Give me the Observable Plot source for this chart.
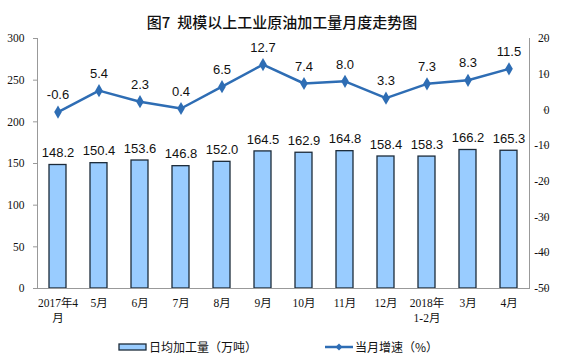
<!DOCTYPE html>
<html><head><meta charset="utf-8">
<script src="https://cdn.jsdelivr.net/npm/d3@7"></script>
<script src="https://cdn.jsdelivr.net/npm/@observablehq/plot@0.6"></script>
<style>
body{margin:0;background:#fff;}
#wrap{position:relative;width:564px;height:363px;overflow:hidden;font-family:"Noto Sans CJK SC",sans-serif;}
#title{position:absolute;left:0;top:12px;width:564px;text-align:center;font-size:15px;line-height:20px;font-weight:500;color:#111;}
#chart{position:absolute;left:0;top:32px;}
.leg{position:absolute;top:338px;font-size:12px;line-height:18px;color:#111;display:flex;align-items:center;}
</style></head>
<body><div id="wrap">
<div id="title">图7&nbsp;&nbsp;规模以上工业原油加工量月度走势图</div>
<div id="chart"></div>
<div class="leg" style="left:118px"><svg width="29" height="10" style="margin-right:2px"><rect x="1" y="2" width="27" height="6" fill="#99CCFF" stroke="#1c2b3a" stroke-width="1.3"/></svg>日均加工量（万吨）</div>
<div class="leg" style="left:325px"><svg width="28" height="10" style="margin-right:2px"><line x1="0" y1="5" x2="28" y2="5" stroke="#2E6DB4" stroke-width="2.5"/><path d="M14 1.5 L17.5 5 L14 8.5 L10.5 5Z" fill="#2E6DB4"/></svg>当月增速（%）</div>
</div>
<script>
const categories = ["2017年4\n月","5月","6月","7月","8月","9月","10月","11月","12月","2018年\n1-2月","3月","4月"];
const output = [148.2,150.4,153.6,146.8,152.0,164.5,162.9,164.8,158.4,158.3,166.2,165.3];
const growth = [-0.6,5.4,2.3,0.4,6.5,12.7,7.4,8.0,3.3,7.3,8.3,11.5];
const leftTicks = [0,50,100,150,200,250,300];
const rightTicks = [-50,-40,-30,-20,-10,0,10,20];

const lMin = 0, lMax = 300, rMin = -50, rMax = 20;
const toLeft = v => (v - rMin) * (lMax - lMin) / (rMax - rMin) + lMin;
const fromLeft = v => (v - lMin) * (rMax - rMin) / (lMax - lMin) + rMin;

const data = categories.map((c, i) => ({cat: c, output: output[i], growth: growth[i]}));
const numFont = "'Liberation Sans Narrow','Liberation Sans',Arial,sans-serif";
const tickFont = "'Liberation Serif','Noto Sans CJK SC',serif";
const lineColor = "#2E6DB4";

const chart = Plot.plot({
  width: 564,
  height: 298,
  marginTop: 6,
  marginBottom: 42,
  marginLeft: 37,
  marginRight: 35,
  x: {domain: categories, paddingInner: 0.58, paddingOuter: 0.29, axis: null, label: null},
  y: {domain: [lMin, lMax], axis: null, label: null},
  marks: [
    Plot.barY(data, {x: "cat", y: "output", fill: "#99CCFF", stroke: "#1c2b3a", strokeWidth: 1.3}),
    Plot.text(data, {x: "cat", y: "output", text: d => d.output.toFixed(1), dy: -12, fontSize: 13, fontFamily: numFont, fill: "#111"}),
    Plot.lineY(data, {x: "cat", y: d => toLeft(d.growth), stroke: lineColor, strokeWidth: 2.5}),
    Plot.dot(data, {x: "cat", y: d => toLeft(d.growth), symbol: "diamond", r: 4, fill: lineColor}),
    Plot.text(data, {x: "cat", y: d => toLeft(d.growth), text: d => d.growth.toFixed(1), dy: -17, fontSize: 13, fontFamily: numFont, fill: "#111"}),
    Plot.frame({anchor: "left", stroke: "#999"}),
    Plot.frame({anchor: "right", stroke: "#999"}),
    Plot.frame({anchor: "bottom", stroke: "#999"}),
    Plot.axisY(leftTicks, {anchor: "left", label: null, tickSize: 4, tickPadding: 9, fontSize: 11.5, fontFamily: tickFont, stroke: "#999", fill: "#111", tickFormat: d => String(d)}),
    Plot.axisY(rightTicks.map(toLeft), {anchor: "right", label: null, tickSize: 4, tickPadding: 3, textAnchor: "end", dx: 13, fontSize: 11.5, fontFamily: tickFont, stroke: "#999", fill: "#111", tickFormat: d => String(Math.round(fromLeft(d)))}),
    Plot.axisX({anchor: "bottom", label: null, tickSize: 0, tickPadding: 8, fontSize: 11.5, fontFamily: tickFont, lineHeight: 1.3, fill: "#111"})
  ]
});
document.getElementById("chart").appendChild(chart);
</script>
</body></html>
